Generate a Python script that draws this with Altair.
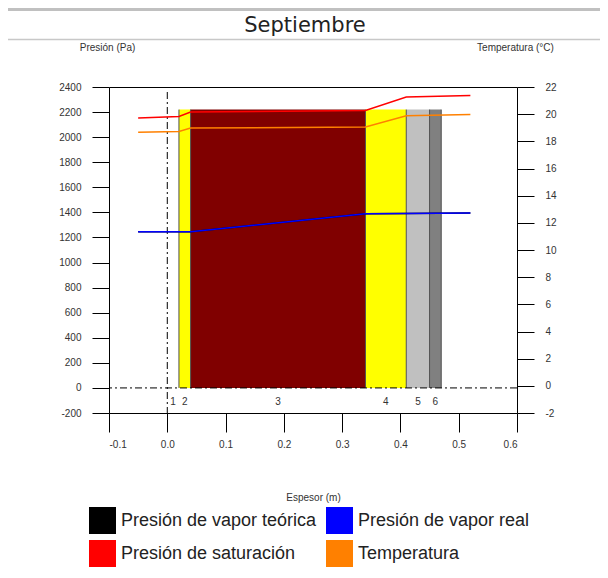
import altair as alt
import pandas as pd

# ---------------- data ----------------
title_text = "Septiembre"
left_axis_title = "Presión (Pa)"
right_axis_title = "Temperatura (°C)"
x_axis_title = "Espesor (m)"

layer_labels = ["1", "2", "3", "4", "5", "6"]
layer_start = [0.00, 0.02, 0.04, 0.34, 0.41, 0.45]
layer_end = [0.02, 0.04, 0.34, 0.41, 0.45, 0.47]
layer_top = 2220
layer_label_level = -115

sat_x = [-0.05, 0.02, 0.04, 0.34, 0.41, 0.52]
sat_p = [2152, 2165, 2200, 2213, 2320, 2333]

temp_x = [-0.05, 0.02, 0.04, 0.34, 0.41, 0.52]
temp_c = [18.66, 18.73, 18.98, 19.05, 19.89, 19.98]

real_x = [-0.05, 0.04, 0.34, 0.41, 0.52]
real_p = [1245, 1245, 1390, 1391, 1396]

theo_x = [-0.05, 0.04, 0.34, 0.41, 0.52]
theo_p = [1245, 1245, 1390, 1391, 1396]

series_names = ["Presión de vapor teórica", "Presión de vapor real",
                "Presión de saturación", "Temperatura"]

p_ticks = list(range(-200, 2401, 200))
t_ticks = list(range(-2, 23, 2))
x_ticks = [-0.1, 0.0, 0.1, 0.2, 0.3, 0.4, 0.5, 0.6]

# ---------------- styles ----------------
layer_fill = ["#ffffff", "#ffff00", "#800000", "#ffff00", "#c0c0c0", "#808080"]
series_colors = ["#000000", "#0000ff", "#ff0000", "#ff8000"]
FONT = "Liberation Sans"

layers_df = pd.DataFrame({
    "label": layer_labels,
    "x0": layer_start,
    "x1": layer_end,
    "mid": [(a + b) / 2 for a, b in zip(layer_start, layer_end)],
    "top": [layer_top] * len(layer_labels),
    "base": [0] * len(layer_labels),
    "lvl": [layer_label_level] * len(layer_labels),
    "fill": layer_fill,
})
sat_df = pd.DataFrame({"x": sat_x, "p": sat_p})
temp_df = pd.DataFrame({"x": temp_x, "t": temp_c})
real_df = pd.DataFrame({"x": real_x, "p": real_p})
theo_df = pd.DataFrame({"x": theo_x, "p": theo_p})
legend_df = pd.DataFrame({"serie": series_names})

xscale = alt.Scale(domain=[-0.1, 0.6], nice=False, zero=False)
pscale = alt.Scale(domain=[-200, 2400], nice=False, zero=False)
tscale = alt.Scale(domain=[-2, 22], nice=False, zero=False)

minus_fix = "replace(datum.label, '\u2212', '-')"

x_axis = alt.Axis(values=x_ticks, tickCount=len(x_ticks), format=".1f",
                  labelExpr=minus_fix, tickSize=19,
                  labelPadding=7, domain=False, labelOverlap=False, title=x_axis_title,
                  titleX=204, titleY=84, titleBaseline="middle", titleAlign="center")
p_axis = alt.Axis(values=p_ticks, tickCount=len(p_ticks), format="d",
                  labelExpr=minus_fix, tickSize=17,
                  labelPadding=11, domain=False, labelOverlap=False,
                  title=left_axis_title, titleAngle=0,
                  titleX=-2, titleY=-40, titleAlign="center", titleBaseline="middle")
t_axis = alt.Axis(orient="right", values=t_ticks, tickCount=len(t_ticks), format="d",
                  labelExpr=minus_fix,
                  tickSize=17, labelPadding=11, domain=False, labelOverlap=False,
                  title=right_axis_title, titleAngle=0,
                  titleX=-2, titleY=-40, titleAlign="center", titleBaseline="middle")

bars = alt.Chart(layers_df).mark_rect().encode(
    x=alt.X("x0:Q", scale=xscale, axis=x_axis),
    x2="x1:Q",
    y=alt.Y("top:Q", scale=pscale, axis=p_axis),
    y2="base:Q",
    fill=alt.Fill("fill:N", scale=None),
)

edges = alt.Chart(layers_df).mark_rule(color="#505050", strokeWidth=1).encode(
    x=alt.X("x1:Q", scale=xscale),
    y=alt.Y("top:Q", scale=pscale),
    y2="base:Q",
)

zero_line = alt.Chart(pd.DataFrame({"k": [0]})).mark_rule(
    color="black", strokeWidth=1, strokeDash=[7, 3, 2, 3]
).encode(y=alt.YDatum(0, scale=pscale))

wall_line = alt.Chart(pd.DataFrame({"k": [0]})).mark_rule(
    color="black", strokeWidth=1, strokeDash=[7, 3, 2, 3]
).encode(
    x=alt.XDatum(0, scale=xscale),
    y=alt.YDatum(2360, scale=pscale),
    y2=alt.Y2Datum(-200),
)

theo_line = alt.Chart(theo_df).mark_line(color=series_colors[0], strokeWidth=1.5).encode(
    x=alt.X("x:Q", scale=xscale),
    y=alt.Y("p:Q", scale=pscale),
)
real_line = alt.Chart(real_df).mark_line(color=series_colors[1], strokeWidth=1.5).encode(
    x=alt.X("x:Q", scale=xscale),
    y=alt.Y("p:Q", scale=pscale),
)
sat_line = alt.Chart(sat_df).mark_line(color=series_colors[2], strokeWidth=1.5).encode(
    x=alt.X("x:Q", scale=xscale),
    y=alt.Y("p:Q", scale=pscale),
)

labels = alt.Chart(layers_df).mark_text(
    font=FONT, fontSize=10, color="#333333", baseline="middle", align="center"
).encode(
    x=alt.X("mid:Q", scale=xscale),
    y=alt.Y("lvl:Q", scale=pscale),
    text="label:N",
)

legend_pts = alt.Chart(legend_df).mark_square(opacity=0, size=10).encode(
    color=alt.Color(
        "serie:N",
        scale=alt.Scale(domain=series_names, range=series_colors),
        legend=alt.Legend(
            title=None, orient="none", legendX=-20, legendY=420, columns=2,
            direction="horizontal",
            symbolType="square", symbolSize=729, symbolOpacity=1,
            symbolStrokeWidth=0, labelFont=FONT, labelFontSize=18,
            labelColor="#222222", labelOffset=5, rowPadding=6,
            columnPadding=9, padding=0, labelLimit=400,
        ),
    )
)

title_mark = alt.Chart(pd.DataFrame({"t": [title_text]})).mark_text(
    font="DejaVu Sans", fontSize=21, color="#222222", align="center", baseline="middle"
).encode(text="t:N", x=alt.value(196), y=alt.value(-61))

top_bar = alt.Chart(pd.DataFrame({"k": [0]})).mark_rule(
    color="#c0c0c0", strokeWidth=3
).encode(x=alt.value(-103), x2=alt.value(491), y=alt.value(-77.5))

title_rule = alt.Chart(pd.DataFrame({"k": [0]})).mark_rule(
    color="#c8c8c8", strokeWidth=1.5
).encode(x=alt.value(-103), x2=alt.value(491), y=alt.value(-47.5))

pressure = alt.layer(
    bars, edges, zero_line, wall_line, theo_line, real_line, sat_line,
    labels, legend_pts, title_mark, top_bar, title_rule,
)

temp_line = alt.Chart(temp_df).mark_line(color=series_colors[3], strokeWidth=1.5).encode(
    x=alt.X("x:Q", scale=xscale),
    y=alt.Y("t:Q", scale=tscale, axis=t_axis),
)

chart = alt.layer(pressure, temp_line).resolve_scale(y="independent").properties(
    width=408, height=326,
    autosize=alt.AutoSizeParams(type="none"),
    padding={"left": 101, "top": 79, "right": 83, "bottom": 157},
).configure_view(
    stroke="black", strokeWidth=1
).configure_axis(
    grid=False, labelFont=FONT, labelFontSize=10, labelColor="#333333",
    titleFont=FONT, titleFontSize=10, titleFontWeight="normal", titleColor="#333333",
    tickColor="black", tickWidth=1,
)

chart.save("out.html", embed_options={"renderer": "svg", "actions": False})
